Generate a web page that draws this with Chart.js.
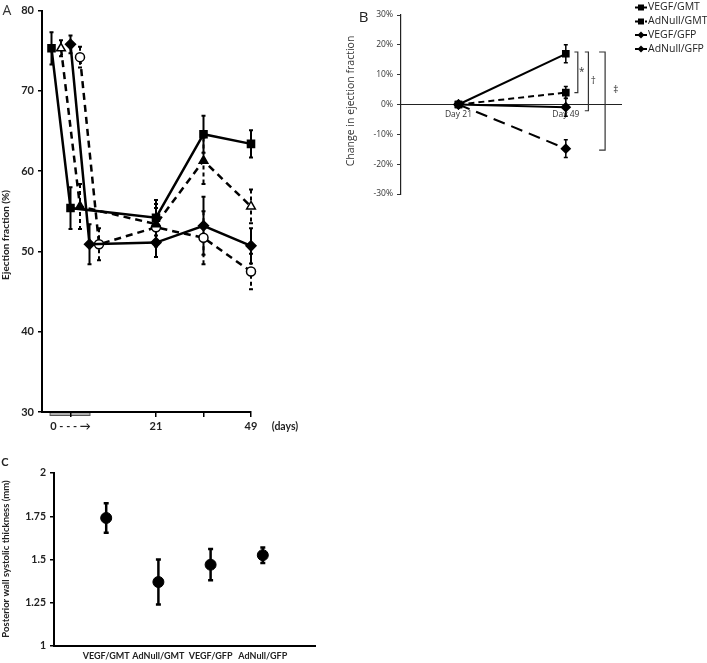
<!DOCTYPE html>
<html>
<head>
<meta charset="utf-8">
<script src="https://cdn.jsdelivr.net/npm/chart.js@4.4.0/dist/chart.umd.min.js"></script>
<style>
  body { margin: 0; background: #fff; width: 707px; height: 663px; position: relative; overflow: hidden; }
  canvas { position: absolute; }
</style>
</head>
<body>
<canvas id="chartA" width="330" height="440" style="left:0;top:0;width:330px;height:440px"></canvas>
<canvas id="chartB" width="377" height="260" style="left:330px;top:0;width:377px;height:260px"></canvas>
<canvas id="chartC" width="330" height="223" style="left:0;top:440px;width:330px;height:223px"></canvas>
<script>
// Panel A - ejection fraction (%) over time, x is an axis position (not linear in days)
const aTickPos = [0, 1.8, 2.8, 3.8];
const aTickLabels = ['0 - - - \u2192', '21', '', '49'];
const aVegfGmtX = [-0.4, 0, 1.8, 2.8, 3.8];
const aVegfGmtY = [75.3, 55.4, 54.2, 64.6, 63.4];
const aVegfGmtErr = [2.0, 2.6, 2.2, 2.3, 1.7];
const aAdNullGmtX = [-0.2, 0.2, 1.8, 2.8, 3.8];
const aAdNullGmtY = [75.3, 55.6, 53.4, 61.3, 55.6];
const aAdNullGmtErr = [1.0, 2.8, 2.5, 2.9, 2.1];
const aVegfGfpX = [0, 0.4, 1.8, 2.8, 3.8];
const aVegfGfpY = [75.8, 50.9, 51.1, 53.2, 50.7];
const aVegfGfpErr = [1.1, 2.5, 1.8, 3.6, 2.2];
const aAdNullGfpX = [0.2, 0.6, 1.8, 2.8, 3.8];
const aAdNullGfpY = [74.2, 50.9, 53.0, 51.7, 47.5];
const aAdNullGfpErr = [1.3, 2.0, 2.4, 3.3, 2.2];

// Panel B - change in ejection fraction (%) from day 21 to day 49
const bDays = [21, 49];
const bGroups = ['VEGF/GMT', 'AdNull/GMT', 'VEGF/GFP', 'AdNull/GFP'];
const bVegfGmt = [0, 17];
const bAdNullGmt = [0, 4];
const bVegfGfp = [0, -0.9];
const bAdNullGfp = [0, -14.8];
const bVegfGmtErr = [0, 3];
const bAdNullGmtErr = [0, 2];
const bVegfGfpErr = [0, 3];
const bAdNullGfpErr = [0, 3];
const bBrackets = [[17.6, 4, '*'], [17.6, -2.1, '\u2020'], [17.6, -15.3, '\u2021']];

// Panel C - posterior wall systolic thickness (mm)
const cGroups = ['VEGF/GMT', 'AdNull/GMT', 'VEGF/GFP', 'AdNull/GFP'];
const cMean = [1.74, 1.37, 1.47, 1.525];
const cErr = [0.085, 0.13, 0.09, 0.045];

const pts = (xs, ys) => xs.map((x, i) => ({ x: x, y: ys[i] }));

// error bars drawn under the markers
const errorBars = {
  id: 'errorBars',
  beforeDatasetsDraw(chart) {
    const ctx = chart.ctx;
    const yScale = chart.scales.y;
    chart.data.datasets.forEach((ds, i) => {
      if (!ds.errors) return;
      const meta = chart.getDatasetMeta(i);
      ctx.save();
      ctx.strokeStyle = '#000';
      ctx.lineWidth = ds.errorWidth || 1.5;
      meta.data.forEach((pt, j) => {
        const e = ds.errors[j];
        if (!e) return;
        const v = ds.data[j].y;
        const top = yScale.getPixelForValue(v + e);
        const bot = yScale.getPixelForValue(v - e);
        const c = ds.capWidth || 2;
        ctx.setLineDash(ds.errorDash || []);
        ctx.beginPath();
        ctx.moveTo(pt.x, top); ctx.lineTo(pt.x, bot);
        ctx.stroke();
        ctx.setLineDash([]);
        ctx.beginPath();
        ctx.moveTo(pt.x - c, top); ctx.lineTo(pt.x + c, top);
        ctx.moveTo(pt.x - c, bot); ctx.lineTo(pt.x + c, bot);
        ctx.stroke();
      });
      ctx.restore();
    });
  }
};

function textPlugin(id, texts) {
  return {
    id: id,
    afterDraw(chart) {
      const ctx = chart.ctx;
      texts.forEach(t => {
        ctx.save();
        ctx.font = t.font;
        ctx.fillStyle = t.color || '#111';
        ctx.textAlign = t.align || 'center';
        ctx.textBaseline = 'middle';
        ctx.translate(t.x, t.y);
        if (t.rotate) ctx.rotate(t.rotate);
        ctx.fillText(t.text, 0, 0);
        ctx.restore();
      });
    }
  };
}

function fixWidth(w) { return scale => { scale.width = w; }; }
function fixHeight(h) { return scale => { scale.height = h; }; }

const boldA = { family: 'Lato', weight: 'bold', size: 11 };
const boldC = { family: 'Lato', weight: 'bold', size: 9 };

// ---------- Panel A ----------
function lineSet(label, xs, ys, errs, style, dashed, fills) {
  return {
    label: label,
    data: pts(xs, ys),
    clip: false,
    errors: errs,
    errorDash: dashed ? [4, 3] : [],
    errorWidth: 2,
    capWidth: 2,
    borderColor: '#000',
    borderWidth: 2.5,
    borderDash: dashed ? [7, 5] : [],
    pointStyle: style,
    pointRadius: style === 'circle' ? 4.5 : 5,
    pointBorderColor: '#000',
    pointBorderWidth: 1.5,
    pointBackgroundColor: fills,
    tension: 0
  };
}

new Chart(document.getElementById('chartA'), {
  type: 'line',
  data: {
    datasets: [
      lineSet('VEGF/GMT', aVegfGmtX, aVegfGmtY, aVegfGmtErr, 'rect', false, '#000'),
      lineSet('AdNull/GMT', aAdNullGmtX, aAdNullGmtY, aAdNullGmtErr, 'triangle', true, ['#fff', '#000', '#000', '#000', '#fff']),
      lineSet('VEGF/GFP', aVegfGfpX, aVegfGfpY, aVegfGfpErr, 'rectRot', false, '#000'),
      lineSet('AdNull/GFP', aAdNullGfpX, aAdNullGfpY, aAdNullGfpErr, 'circle', true, '#fff')
    ]
  },
  options: {
    responsive: false,
    animation: false,
    devicePixelRatio: 1,
    layout: { padding: { top: 8, right: 79, left: 0, bottom: 0 } },
    plugins: { legend: { display: false }, tooltip: { enabled: false } },
    scales: {
      x: {
        type: 'linear', min: -0.6, max: 3.8,
        afterFit: fixHeight(28),
        afterBuildTicks: s => { s.ticks = aTickPos.map(v => ({ value: v })); },
        ticks: {
          autoSkip: false, maxRotation: 0, padding: 3, color: '#222', font: boldA,
          callback: v => aTickLabels[aTickPos.indexOf(v)]
        },
        grid: { drawOnChartArea: false, tickLength: 5, color: '#000', lineWidth: 1.5 },
        border: { display: true, color: '#000', width: 2 }
      },
      y: {
        min: 30, max: 80,
        afterFit: fixWidth(42),
        ticks: { stepSize: 10, padding: 4, color: '#222', font: boldA },
        grid: { drawOnChartArea: false, tickLength: 4, color: '#000', lineWidth: 1.5 },
        border: { display: true, color: '#000', width: 2 }
      }
    }
  },
  plugins: [
    {
      id: 'grayBar',
      beforeDraw(chart) {
        const x = chart.scales.x, y = chart.scales.y;
        const x0 = x.getPixelForValue(-0.43), x1 = x.getPixelForValue(0.41);
        const yb = y.getPixelForValue(30);
        const ctx = chart.ctx;
        ctx.save();
        ctx.fillStyle = '#b0b0b0';
        ctx.strokeStyle = '#555';
        ctx.lineWidth = 1;
        ctx.fillRect(x0, yb, x1 - x0, 3.5);
        ctx.strokeRect(x0, yb, x1 - x0, 3.5);
        ctx.restore();
      }
    },
    errorBars,
    textPlugin('textA', [
      { text: 'A', x: 7, y: 11, font: '14px "Open Sans"', color: '#333' },
      { text: 'Ejection fraction (%)', x: 6, y: 235, rotate: -Math.PI / 2, font: 'bold 10px Lato', color: '#222' },
      { text: '(days)', x: 285, y: 427, font: 'bold 10.5px Lato', color: '#222' }
    ])
  ]
});

// ---------- Panel B ----------
function bSet(label, ys, errs, style, dash) {
  return {
    label: label,
    data: pts(bDays, ys),
    clip: false,
    errors: errs,
    errorWidth: 1.5,
    capWidth: 2,
    borderColor: '#000',
    borderWidth: 2,
    borderDash: dash,
    pointStyle: style,
    pointRadius: 4,
    pointBackgroundColor: '#000',
    pointBorderColor: '#000',
    tension: 0
  };
}
const bStyles = [['rect', []], ['rect', [6, 4]], ['rectRot', []], ['rectRot', [12, 7]]];

new Chart(document.getElementById('chartB'), {
  type: 'line',
  data: {
    datasets: [
      bSet(bGroups[0], bVegfGmt, bVegfGmtErr, 'rect', []),
      bSet(bGroups[1], bAdNullGmt, bAdNullGmtErr, 'rect', [6, 4]),
      bSet(bGroups[2], bVegfGfp, bVegfGfpErr, 'rectRot', []),
      bSet(bGroups[3], bAdNullGfp, bAdNullGfpErr, 'rectRot', [12, 7])
    ]
  },
  options: {
    responsive: false,
    animation: false,
    devicePixelRatio: 1,
    layout: { padding: { top: 15, right: 86, left: 0, bottom: 66 } },
    plugins: { legend: { display: false }, tooltip: { enabled: false } },
    scales: {
      x: {
        type: 'linear', min: 6, max: 63.4,
        position: { y: 0 },
        afterBuildTicks: s => { s.ticks = bDays.map(v => ({ value: v })); },
        ticks: {
          autoSkip: false, maxRotation: 0, padding: 5, color: '#333',
          font: { family: 'Open Sans', size: 8.5 },
          callback: v => 'Day ' + v
        },
        grid: { drawOnChartArea: false, drawTicks: false },
        border: { display: true, color: '#222', width: 1 }
      },
      y: {
        min: -30, max: 30,
        afterFit: fixWidth(71),
        ticks: {
          stepSize: 10, padding: 4, color: '#333',
          font: { family: 'Open Sans', size: 8.5 },
          callback: v => v + '%'
        },
        grid: { drawOnChartArea: false, tickLength: 4, color: '#333', lineWidth: 1 },
        border: { display: true, color: '#222', width: 1.2 }
      }
    }
  },
  plugins: [
    errorBars,
    {
      id: 'bracketsLegend',
      afterDraw(chart) {
        const ctx = chart.ctx;
        const x49 = chart.scales.x.getPixelForValue(bDays[1]);
        const y = chart.scales.y;
        const geo = [[8.6, 12, 16, 0], [19, 22.6, 27.6, 0], [33.3, 39.3, 50, -11]];
        ctx.save();
        ctx.strokeStyle = '#333';
        ctx.lineWidth = 1.2;
        ctx.fillStyle = '#333';
        ctx.font = '10px "Open Sans"';
        ctx.textAlign = 'center';
        ctx.textBaseline = 'middle';
        bBrackets.forEach((b, i) => {
          const g = geo[i];
          const yt = y.getPixelForValue(b[0]), yb = y.getPixelForValue(b[1]);
          ctx.beginPath();
          ctx.moveTo(x49 + g[0], yt); ctx.lineTo(x49 + g[1], yt);
          ctx.lineTo(x49 + g[1], yb); ctx.lineTo(x49 + g[0], yb);
          ctx.stroke();
          ctx.fillText(b[2], x49 + g[2], (yt + yb) / 2 + g[3]);
        });
        // legend
        const rows = [7.5, 21.5, 35, 49];
        ctx.textAlign = 'left';
        ctx.font = '10.5px "Open Sans"';
        bGroups.forEach((name, i) => {
          const yy = rows[i];
          ctx.strokeStyle = '#000';
          ctx.lineWidth = 2;
          ctx.setLineDash(i === 1 ? [3, 2] : []);
          ctx.beginPath();
          ctx.moveTo(305, yy); ctx.lineTo(317, yy);
          ctx.stroke();
          ctx.setLineDash([]);
          ctx.fillStyle = '#000';
          ctx.beginPath();
          if (bStyles[i][0] === 'rect') {
            ctx.rect(308, yy - 3, 6, 6);
          } else {
            ctx.moveTo(311, yy - 3.5); ctx.lineTo(314.5, yy);
            ctx.lineTo(311, yy + 3.5); ctx.lineTo(307.5, yy);
            ctx.closePath();
          }
          ctx.fill();
          ctx.fillStyle = '#222';
          ctx.fillText(name, 318, yy);
        });
        ctx.restore();
      }
    },
    textPlugin('textB', [
      { text: 'B', x: 33.5, y: 18, font: '15px "Open Sans"', color: '#222' },
      { text: 'Change in ejection fraction', x: 21.5, y: 101, rotate: -Math.PI / 2, font: '10.5px "Open Sans"', color: '#333' }
    ])
  ]
});

// ---------- Panel C ----------
new Chart(document.getElementById('chartC'), {
  type: 'line',
  data: {
    datasets: [{
      label: 'Posterior wall systolic thickness',
      data: pts([1, 2, 3, 4], cMean),
      clip: false,
      errors: cErr,
      errorWidth: 2.5,
      capWidth: 2.5,
      showLine: false,
      pointStyle: 'circle',
      pointRadius: 5.5,
      pointBackgroundColor: '#000',
      pointBorderColor: '#000'
    }]
  },
  options: {
    responsive: false,
    animation: false,
    devicePixelRatio: 1,
    layout: { padding: { top: 33, right: 15, left: 0, bottom: 0 } },
    plugins: { legend: { display: false }, tooltip: { enabled: false } },
    scales: {
      x: {
        type: 'linear', min: 0, max: 5,
        afterFit: fixHeight(17),
        afterBuildTicks: s => { s.ticks = [1, 2, 3, 4].map(v => ({ value: v })); },
        ticks: {
          autoSkip: false, maxRotation: 0, padding: 5, color: '#222', font: boldC,
          callback: v => cGroups[v - 1]
        },
        grid: { drawOnChartArea: false, drawTicks: false },
        border: { display: true, color: '#000', width: 2 }
      },
      y: {
        min: 1, max: 2,
        afterFit: fixWidth(54),
        ticks: {
          stepSize: 0.25, padding: 4, color: '#222',
          font: { family: 'Lato', weight: 'bold', size: 10.5 },
          callback: v => String(v)
        },
        grid: { drawOnChartArea: false, tickLength: 4, color: '#000', lineWidth: 1.5 },
        border: { display: true, color: '#000', width: 2 }
      }
    }
  },
  plugins: [
    errorBars,
    textPlugin('textC', [
      { text: 'C', x: 5, y: 22, font: 'bold 11px Lato', color: '#222' },
      { text: 'Posterior wall systolic thickness (mm)', x: 6, y: 119, rotate: -Math.PI / 2, font: 'bold 9.5px Lato', color: '#222' }
    ])
  ]
});
</script>
</body>
</html>
